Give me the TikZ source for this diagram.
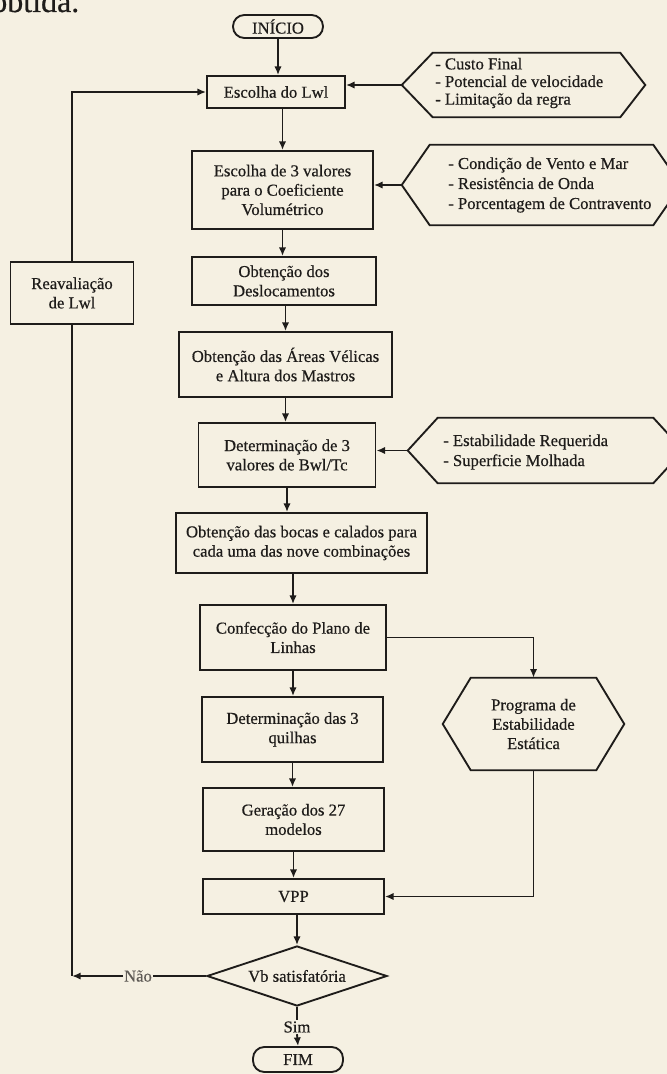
\documentclass[tikz,border=0pt]{standalone}
\usepackage{fontspec}
\setmainfont{Liberation Serif}[FakeBold=0.5]
\usetikzlibrary{arrows.meta,shapes.geometric}
\definecolor{paper}{RGB}{245,240,226}
\definecolor{ink}{RGB}{30,28,26}
\definecolor{soft}{RGB}{95,91,86}

\begin{document}
\begin{tikzpicture}[x=0.75pt,y=-0.75pt,
  every node/.style={font=\fontsize{12.5pt}{14.5pt}\selectfont, text=ink},
  box/.style={draw=ink, line width=1.4pt, rectangle, align=center, inner sep=0pt},
  term/.style={draw=ink, line width=1.4pt, rounded corners=8.5pt, inner sep=0pt,
               minimum width=67.5pt},
  hexbody/.style={inner sep=0pt, align=center},
  hexo/.style={draw=ink, line width=1.4pt, line join=miter},
  list/.style={align=left, anchor=west, inner sep=0pt,
               font=\fontsize{12.5pt}{14pt}\selectfont},
  line/.style={draw=ink, line width=1.4pt},
  arr/.style={line, -{Latex[length=6.5pt,width=5.5pt]}},
]
% page
\fill[paper] (0,0) rectangle (667,1074);
\useasboundingbox (0,0) rectangle (667,1074);

% running text of the page above the chart
\node[anchor=base west, inner sep=0pt, font=\fontsize{24pt}{28pt}\selectfont] (txt) at (-9,12) {obtida.};

% main column
\node[term, minimum height=17.25pt] (inicio) at (278,26.5) {INÍCIO};
\node[box, minimum width=103.5pt, minimum height=24pt] (esc1) at (276,92) {Escolha do Lwl};
\node[box, minimum width=135.75pt, minimum height=58.5pt] (esc3) at (282.5,190)
  {Escolha de 3 valores\\para o Coeficiente\\Volumétrico};
\node[box, minimum width=138pt, minimum height=36pt] (desl) at (284,281)
  {Obtenção dos\\Deslocamentos};
\node[box, minimum width=159.75pt, minimum height=48.75pt] (areas) at (285.5,364.5)
  {Obtenção das Áreas Vélicas\\e Altura dos Mastros};
\node[box, minimum width=132.75pt, minimum height=48pt] (bwl) at (287,455)
  {Determinação de 3\\valores de Bwl/Tc};
\node[box, minimum width=188.25pt, minimum height=45pt] (bocas) at (301.5,543)
  {Obtenção das bocas e calados para\\cada uma das nove combinações};
\node[box, minimum width=139.5pt, minimum height=48.75pt] (plano) at (293,637.5)
  {Confecção do Plano de\\Linhas};
\node[box, minimum width=135.75pt, minimum height=48.75pt] (quilhas) at (292.5,729.5)
  {Determinação das 3\\quilhas};
\node[box, minimum width=135.75pt, minimum height=47.25pt] (modelos) at (293.5,819.5)
  {Geração dos 27\\modelos};
\node[box, minimum width=135.75pt, minimum height=26.25pt] (vpp) at (293.5,896.5) {VPP};
\node[draw=ink, line width=1.4pt, diamond, aspect=3, inner sep=0pt,
      minimum width=135pt, minimum height=45pt] (dia) at (297,976) {Vb satisfatória};
\node[inner sep=1pt] (sim) at (297,1027) {Sim};
\node[term, minimum height=18.75pt] (fim) at (298,1059.5) {FIM};

% loop back
\node[box, minimum width=92.25pt, minimum height=46.5pt] (reav) at (72,293)
  {Reavaliação\\de Lwl};
\node[inner sep=0.5pt, text=soft] (nao) at (138,976) {Não};
\coordinate (naoEnd) at (72,976);

% input hexagons
\node[hexbody, minimum width=140.25pt, minimum height=48pt] (hA) at (526.5,85) {};
\draw[hexo] (hA.north west) -- (hA.north east) -- ([xshift=18.75pt]hA.east)
  -- (hA.south east) -- (hA.south west) -- ([xshift=-23.25pt]hA.west) -- cycle;
\node[list, font=\fontsize{12.5pt}{13.2pt}\selectfont] at (435,83)
  {- Custo Final\\- Potencial de velocidade\\- Limitação da regra};

\node[hexbody, minimum width=167.25pt, minimum height=60pt] (hB) at (541.5,185) {};
\draw[hexo] (hB.north west) -- (hB.north east) -- ([xshift=21pt]hB.east)
  -- (hB.south east) -- (hB.south west) -- ([xshift=-21pt]hB.west) -- cycle;
\node[list, font=\fontsize{12.5pt}{15pt}\selectfont] at (448,185)
  {- Condição de Vento e Mar\\- Resistência de Onda\\- Porcentagem de Contravento};

\node[hexbody, minimum width=161.25pt, minimum height=48.75pt] (hC) at (545.5,450.5) {};
\draw[hexo] (hC.north west) -- (hC.north east) -- ([xshift=22.5pt]hC.east)
  -- (hC.south east) -- (hC.south west) -- ([xshift=-22.5pt]hC.west) -- cycle;
\node[list, font=\fontsize{12.5pt}{15pt}\selectfont] at (443,452)
  {- Estabilidade Requerida\\- Superficie Molhada};

\node[hexbody, minimum width=93.75pt, minimum height=69pt] (prog) at (533.5,724)
  {Programa de\\Estabilidade\\Estática};
\draw[hexo] (prog.north west) -- (prog.north east) -- ([xshift=21pt]prog.east)
  -- (prog.south east) -- (prog.south west) -- ([xshift=-21pt]prog.west) -- cycle;

% main flow
\draw[arr] (inicio.south) -- (inicio.south |- esc1.north);
\draw[arr] (esc3.north |- esc1.south) -- (esc3.north);
\draw[arr] (esc3.south) -- (esc3.south |- desl.north);
\draw[arr] (areas.north |- desl.south) -- (areas.north);
\draw[arr] (areas.south) -- (areas.south |- bwl.north);
\draw[arr] (bwl.south) -- (bwl.south |- bocas.north);
\draw[arr] (plano.north |- bocas.south) -- (plano.north);
\draw[arr] (plano.south) -- (plano.south |- quilhas.north);
\draw[arr] (quilhas.south) -- (quilhas.south |- modelos.north);
\draw[arr] (modelos.south) -- (modelos.south |- vpp.north);
\draw[arr] (dia.north |- vpp.south) -- (dia.north);
\draw[line] (dia.south) -- (sim.north);
\draw[arr] (sim.south) -- (fim.north);

% inputs
\draw[arr] ([xshift=-23.25pt]hA.west) -- (esc1.east |- hA.west);
\draw[arr] ([xshift=-21pt]hB.west) -- (esc3.east |- hB.west);
\draw[arr] ([xshift=-22.5pt]hC.west) -- (bwl.east |- hC.west);

% stability branch
\draw[arr] (plano.east) -| (prog.north);
\draw[arr] (prog.south) |- (vpp.east);

% re-evaluation loop
\draw[line] (dia.west) -- (nao.east);
\draw[arr] (nao.west) -- (naoEnd);
\draw[line] (reav.south) -- (naoEnd);
\draw[arr] (reav.north) |- (esc1.west);
\end{tikzpicture}
\end{document}
